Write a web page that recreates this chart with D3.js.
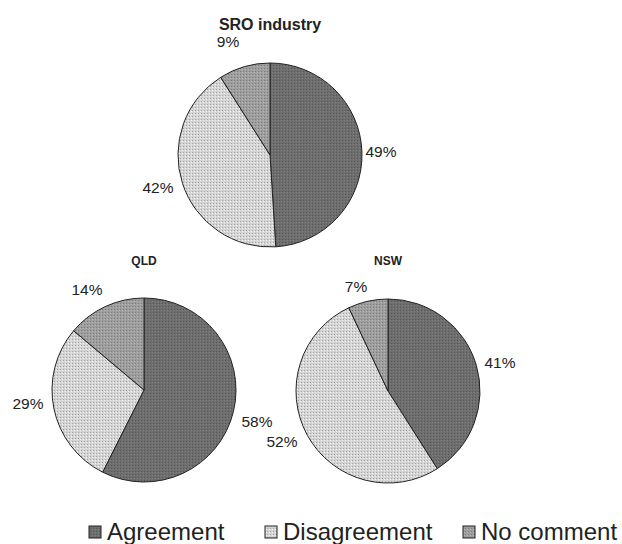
<!DOCTYPE html>
<html>
<head>
<meta charset="utf-8">
<script src="https://cdn.jsdelivr.net/npm/d3@7"></script>
<style>
  body { margin: 0; background: #fff; }
  text { font-family: "Liberation Sans", Arial, sans-serif; fill: #222; }
</style>
</head>
<body>
<svg id="chart" width="622" height="544"></svg>
<script>
// data
const categories = ["Agreement", "Disagreement", "No comment"];
const regions = ["SRO industry", "QLD", "NSW"];
const sroValues = [49, 42, 9];
const qldValues = [58, 29, 14];
const nswValues = [41, 52, 7];
const colors = ["#6e6e6e", "#d4d4d4", "#9e9e9e"];

const svg = d3.select("#chart");

// dotted texture to look a bit like the scanned original
const defs = svg.append("defs");
colors.forEach((c, i) => {
  const p = defs.append("pattern")
    .attr("id", "pat" + i)
    .attr("width", 3).attr("height", 3)
    .attr("patternUnits", "userSpaceOnUse");
  p.append("rect").attr("width", 3).attr("height", 3).attr("fill", c);
  p.append("rect").attr("x", 0).attr("y", 0).attr("width", 1).attr("height", 1)
    .attr("fill", d3.color(c).darker(0.7));
  p.append("rect").attr("x", 2).attr("y", 1).attr("width", 1).attr("height", 1)
    .attr("fill", d3.color(c).brighter(0.4));
});

const color = d3.scaleOrdinal().domain(categories).range(colors.map((c, i) => "url(#pat" + i + ")"));

const pie = d3.pie().sort(null).value(d => d.value);
const radius = 92;
const arc = d3.arc().innerRadius(0).outerRadius(radius);

// layout per pie: centre, title and label offsets from the centre
const pies = [
  { name: regions[0], values: sroValues, cx: 270, cy: 155, titleY: 30, titleSize: 16,
    labels: [{ dx: 111, dy: 2 }, { dx: -112, dy: 38 }, { dx: -42, dy: -108 }] },
  { name: regions[1], values: qldValues, cx: 144, cy: 390, titleY: 265, titleSize: 12,
    labels: [{ dx: 113, dy: 37 }, { dx: -116, dy: 19 }, { dx: -57, dy: -95 }] },
  { name: regions[2], values: nswValues, cx: 388, cy: 391, titleY: 265, titleSize: 12,
    labels: [{ dx: 112, dy: -23 }, { dx: -106, dy: 56 }, { dx: -32, dy: -99 }] }
];

pies.forEach(p => {
  const data = p.values.map((v, i) => ({ key: categories[i], value: v }));
  const g = svg.append("g").attr("transform", `translate(${p.cx},${p.cy})`);

  g.selectAll("path")
    .data(pie(data))
    .enter()
    .append("path")
    .attr("d", arc)
    .attr("fill", d => color(d.data.key))
    .attr("stroke", "#222")
    .attr("stroke-width", 1);

  g.selectAll(".lbl")
    .data(pie(data))
    .enter()
    .append("text")
    .attr("class", "lbl")
    .attr("x", (d, i) => p.labels[i].dx)
    .attr("y", (d, i) => p.labels[i].dy)
    .attr("text-anchor", "middle")
    .attr("font-size", 15.5)
    .text(d => d.data.value + "%");

  svg.append("text")
    .attr("x", p.cx)
    .attr("y", p.titleY)
    .attr("text-anchor", "middle")
    .attr("font-size", p.titleSize)
    .attr("font-weight", "bold")
    .text(p.name);
});

// legend
const legendX = [89, 265, 463];
const legend = svg.append("g").attr("transform", "translate(0,540)");
categories.forEach((c, i) => {
  legend.append("rect")
    .attr("x", legendX[i]).attr("y", -14)
    .attr("width", 12).attr("height", 12)
    .attr("fill", color(c))
    .attr("stroke", "#222");
  legend.append("text")
    .attr("x", legendX[i] + 18)
    .attr("y", 0)
    .attr("font-size", 24)
    .text(c);
});
</script>
</body>
</html>
